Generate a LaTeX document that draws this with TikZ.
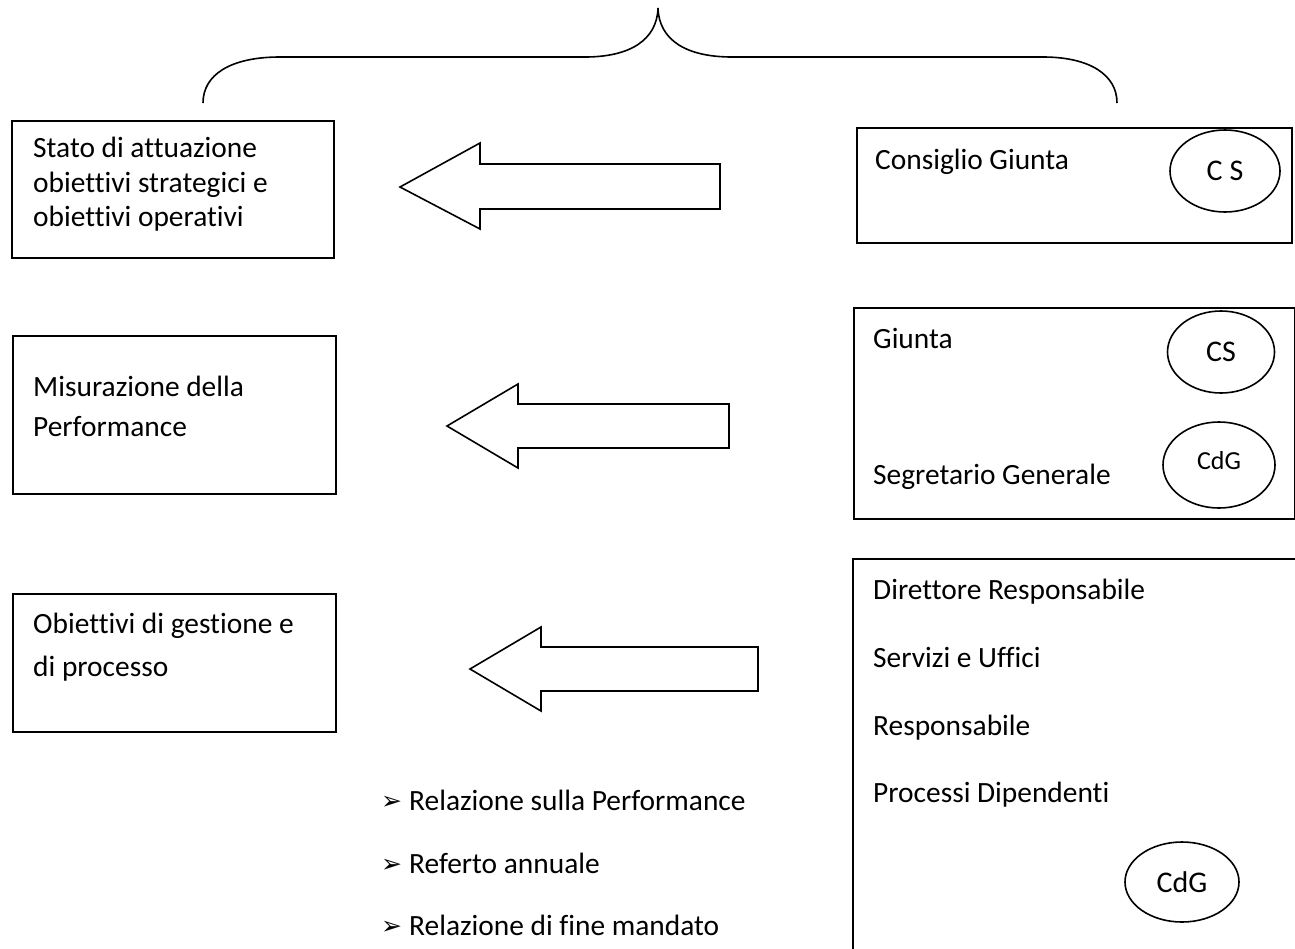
\documentclass[tikz,border=0pt]{standalone}
\usepackage{fontspec}
\setmainfont{Carlito}[Ligatures=NoCommon]
\newfontfamily\symfont{DejaVu Sans}
\usetikzlibrary{shapes.geometric}
\begin{document}
\begin{tikzpicture}[x=1pt,y=-1pt,
  box/.style={draw,line width=1.6pt,rectangle,inner sep=0,anchor=north west},
  txt/.style={anchor=mid west,inner sep=0,font=\fontsize{29.4}{35}\selectfont},
  oval/.style={draw,line width=1.6pt,ellipse,inner sep=0,font=\fontsize{30}{36}\selectfont},
  blockarrow/.style={draw,line width=1.6pt,line join=miter},
  bullet/.style={anchor=mid west,inner sep=0,font=\symfont\fontsize{25}{30}\selectfont}]
\useasboundingbox (0,0) rectangle (1295,948);
\clip (0,0) rectangle (1295,948);

% top brace
\draw[line width=1.6pt] (203,103) .. controls (203,75) and (230,57) .. (280,57) -- (585,57)
  .. controls (630,57) and (657,40) .. (658,8)
  .. controls (659,40) and (686,57) .. (732,57) -- (1043,57)
  .. controls (1090,57) and (1117,75) .. (1117,103);

% left boxes
\node[box,minimum width=322pt,minimum height=137pt] (L1) at (11,120) {};
\node[txt] (L1a) at (33,155) {Stato di attuazione};
\node[txt] (L1b) at (33,190) {obiettivi strategici e};
\node[txt] (L1c) at (33,224) {obiettivi operativi};

\node[box,minimum width=323pt,minimum height=158pt] (L2) at (12,335) {};
\node[txt] (L2a) at (33,394) {Misurazione della};
\node[txt] (L2b) at (33,434) {Performance};

\node[box,minimum width=323pt,minimum height=138pt] (L3) at (12,593) {};
\node[txt] (L3a) at (33,631) {Obiettivi di gestione e};
\node[txt] (L3b) at (33,674) {di processo};

% block arrows
\draw[blockarrow] (720,164) -- (480,164) -- (480,143) -- (400,187) -- (480,229) -- (480,209) -- (720,209) -- cycle;
\draw[blockarrow] (729,404) -- (518,404) -- (518,384) -- (447,426) -- (518,468) -- (518,448) -- (729,448) -- cycle;
\draw[blockarrow] (758,647) -- (541,647) -- (541,627) -- (470,669) -- (541,711) -- (541,691) -- (758,691) -- cycle;

% right boxes
\node[box,minimum width=435pt,minimum height=115pt] (R1) at (856,127) {};
\node[txt] (R1a) at (875,167) {Consiglio Giunta};
\node[oval,minimum width=110pt,minimum height=82pt] (R1o) at (1225,171) {C S};

\node[box,minimum width=441pt,minimum height=211pt] (R2) at (853,307) {};
\node[txt] (R2a) at (873,346) {Giunta};
\node[txt] (R2b) at (873,482) {Segretario Generale};
\node[oval,minimum width=107pt,minimum height=82pt] (R2o) at (1221,352) {CS};
\node[oval,minimum width=112pt,minimum height=86pt] (R2p) at (1219,465) {};
\node[anchor=center,inner sep=0,font=\fontsize{26}{31}\selectfont] (R2pt) at (1219,461) {CdG};

\draw[line width=1.6pt] (1310,559) -- (853,559) -- (853,960);
\coordinate (R3) at (853,559);
\node[txt] (R3a) at (873,597) {Direttore Responsabile};
\node[txt] (R3b) at (873,665) {Servizi e Uffici};
\node[txt] (R3c) at (873,733) {Responsabile};
\node[txt] (R3d) at (873,800) {Processi Dipendenti};
\node[oval,minimum width=114pt,minimum height=80pt] (R3o) at (1182,882) {CdG};

% bullet list
\node[bullet] (s1) at (381,807) {➢};
\node[txt] (t1) at (409,808) {Relazione sulla Performance};
\node[bullet] (s2) at (381,870) {➢};
\node[txt] (t2) at (409,871) {Referto annuale};
\node[bullet] (s3) at (381,932) {➢};
\node[txt] (t3) at (409,933) {Relazione di fine mandato};
\end{tikzpicture}
\end{document}
